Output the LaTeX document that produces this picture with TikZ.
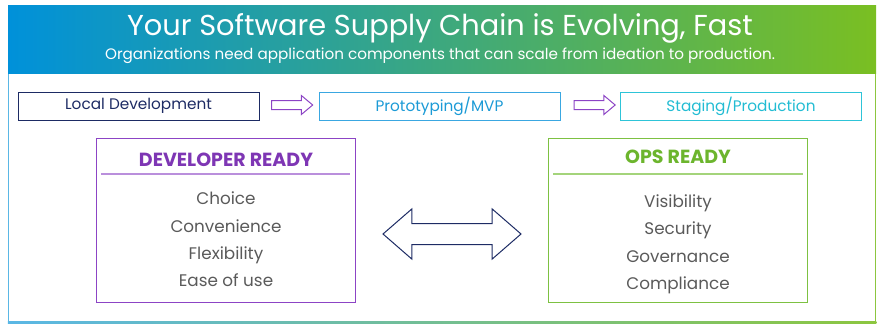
\documentclass[tikz,border=0pt]{standalone}
\usepackage{fontspec}
\setmainfont{Poppins}
\usetikzlibrary{shapes.arrows}

\definecolor{bannerblue}{HTML}{0091DA}
\definecolor{bannermid}{HTML}{44AD6A}
\definecolor{bannergreen}{HTML}{7ABF22}
\definecolor{framablue}{HTML}{5AB7E5}
\definecolor{framegreen}{HTML}{8CC63F}
\definecolor{navy}{HTML}{1D2B64}
\definecolor{skyblue}{HTML}{3AA7E1}
\definecolor{skytext}{HTML}{1B9AD6}
\definecolor{aqua}{HTML}{2EC4D8}
\definecolor{aquatext}{HTML}{22BCD3}
\definecolor{devpurple}{HTML}{8C44C5}
\definecolor{devtitle}{HTML}{7E36B4}
\definecolor{opsgreen}{HTML}{7DC142}
\definecolor{opstitle}{HTML}{6CB52D}
\definecolor{itemgray}{HTML}{5A5A5A}

\begin{document}
\begin{tikzpicture}[
		x=1pt, y=-1pt,
		thin,
		stage/.style={draw, line width=1pt, minimum width=241pt, minimum height=28pt, inner sep=0pt,
			font=\fontsize{15.3}{17}\selectfont},
		flow/.style={single arrow, draw=devpurple, line width=1pt, inner sep=4pt,
			single arrow head extend=5pt, single arrow tip angle=80, minimum height=41pt},
		swap/.style={double arrow, draw=navy, line width=1pt, inner sep=10pt,
			double arrow head extend=14.5pt, double arrow tip angle=82, minimum height=138pt},
		panel/.style={draw, line width=1pt, minimum width=259pt, minimum height=164pt, inner sep=0pt},
		heading/.style={font=\fontsize{19}{22}\selectfont\bfseries, inner sep=0pt},
		item/.style={text=itemgray, font=\fontsize{16.8}{20}\selectfont, inner sep=0pt,
			text height=1.5ex, text depth=.3ex}
	]

		% Frame and banner
		\useasboundingbox (0,0) rectangle (880,324);
		\draw[framablue, line width=1.5pt] (8.5,73) -- (8.5,322.5);
		\draw[framegreen, line width=1.5pt] (875.5,73) -- (875.5,322.5);
		\shade[left color=framablue, right color=framegreen] (7.75,321.75) rectangle (876.25,323.25);
		\shade[left color=bannerblue, middle color=bannermid, right color=bannergreen] (8,5) rectangle (876,73);
		\node[text=white, font=\fontsize{28.8}{32}\selectfont] (title) at (440,28) {Your Software Supply Chain is Evolving, Fast};
		\node[text=white, font=\fontsize{15.2}{18}\selectfont] (subtitle) at (440,56) {Organizations need application components that can scale from ideation to production.};

		% Stages
		\node[stage, draw=navy, text=navy] (local) at (138.5,106) {Local Development};
		\node[stage, draw=skyblue, text=skytext] (proto) at (439.5,106) {Prototyping/MVP};
		\node[stage, draw=aqua, text=aquatext] (stage) at (741,106) {Staging/Production};
		\node[flow] (flow1) at (289.5,105) {};
		\node[flow] (flow2) at (592,105) {};

		% Panels
		\node[panel, draw=devpurple] (dev) at (225.5,220) {};
		\node[panel, draw=opsgreen] (ops) at (678,220) {};
		\draw[devpurple!60, line width=1.2pt] (101,174) -- (350,174);
		\draw[opsgreen!70, line width=1.2pt] (553,174) -- (803,174);
		\node[heading, text=devtitle] (devhead) at (226,160) {DEVELOPER READY};
		\node[heading, text=opstitle] (opshead) at (678,157) {OPS READY};

		\node[item] (choice) at (226,201) {Choice};
		\node[item] (convenience) at (226,229) {Convenience};
		\node[item] (flexibility) at (226,256) {Flexibility};
		\node[item] (ease) at (226,283) {Ease of use};

		\node[item] (visibility) at (678,204) {Visibility};
		\node[item] (security) at (678,231) {Security};
		\node[item] (governance) at (678,259) {Governance};
		\node[item] (compliance) at (678,286) {Compliance};

		\node[swap] (link) at (452,234) {};
	\end{tikzpicture}
\end{document}
